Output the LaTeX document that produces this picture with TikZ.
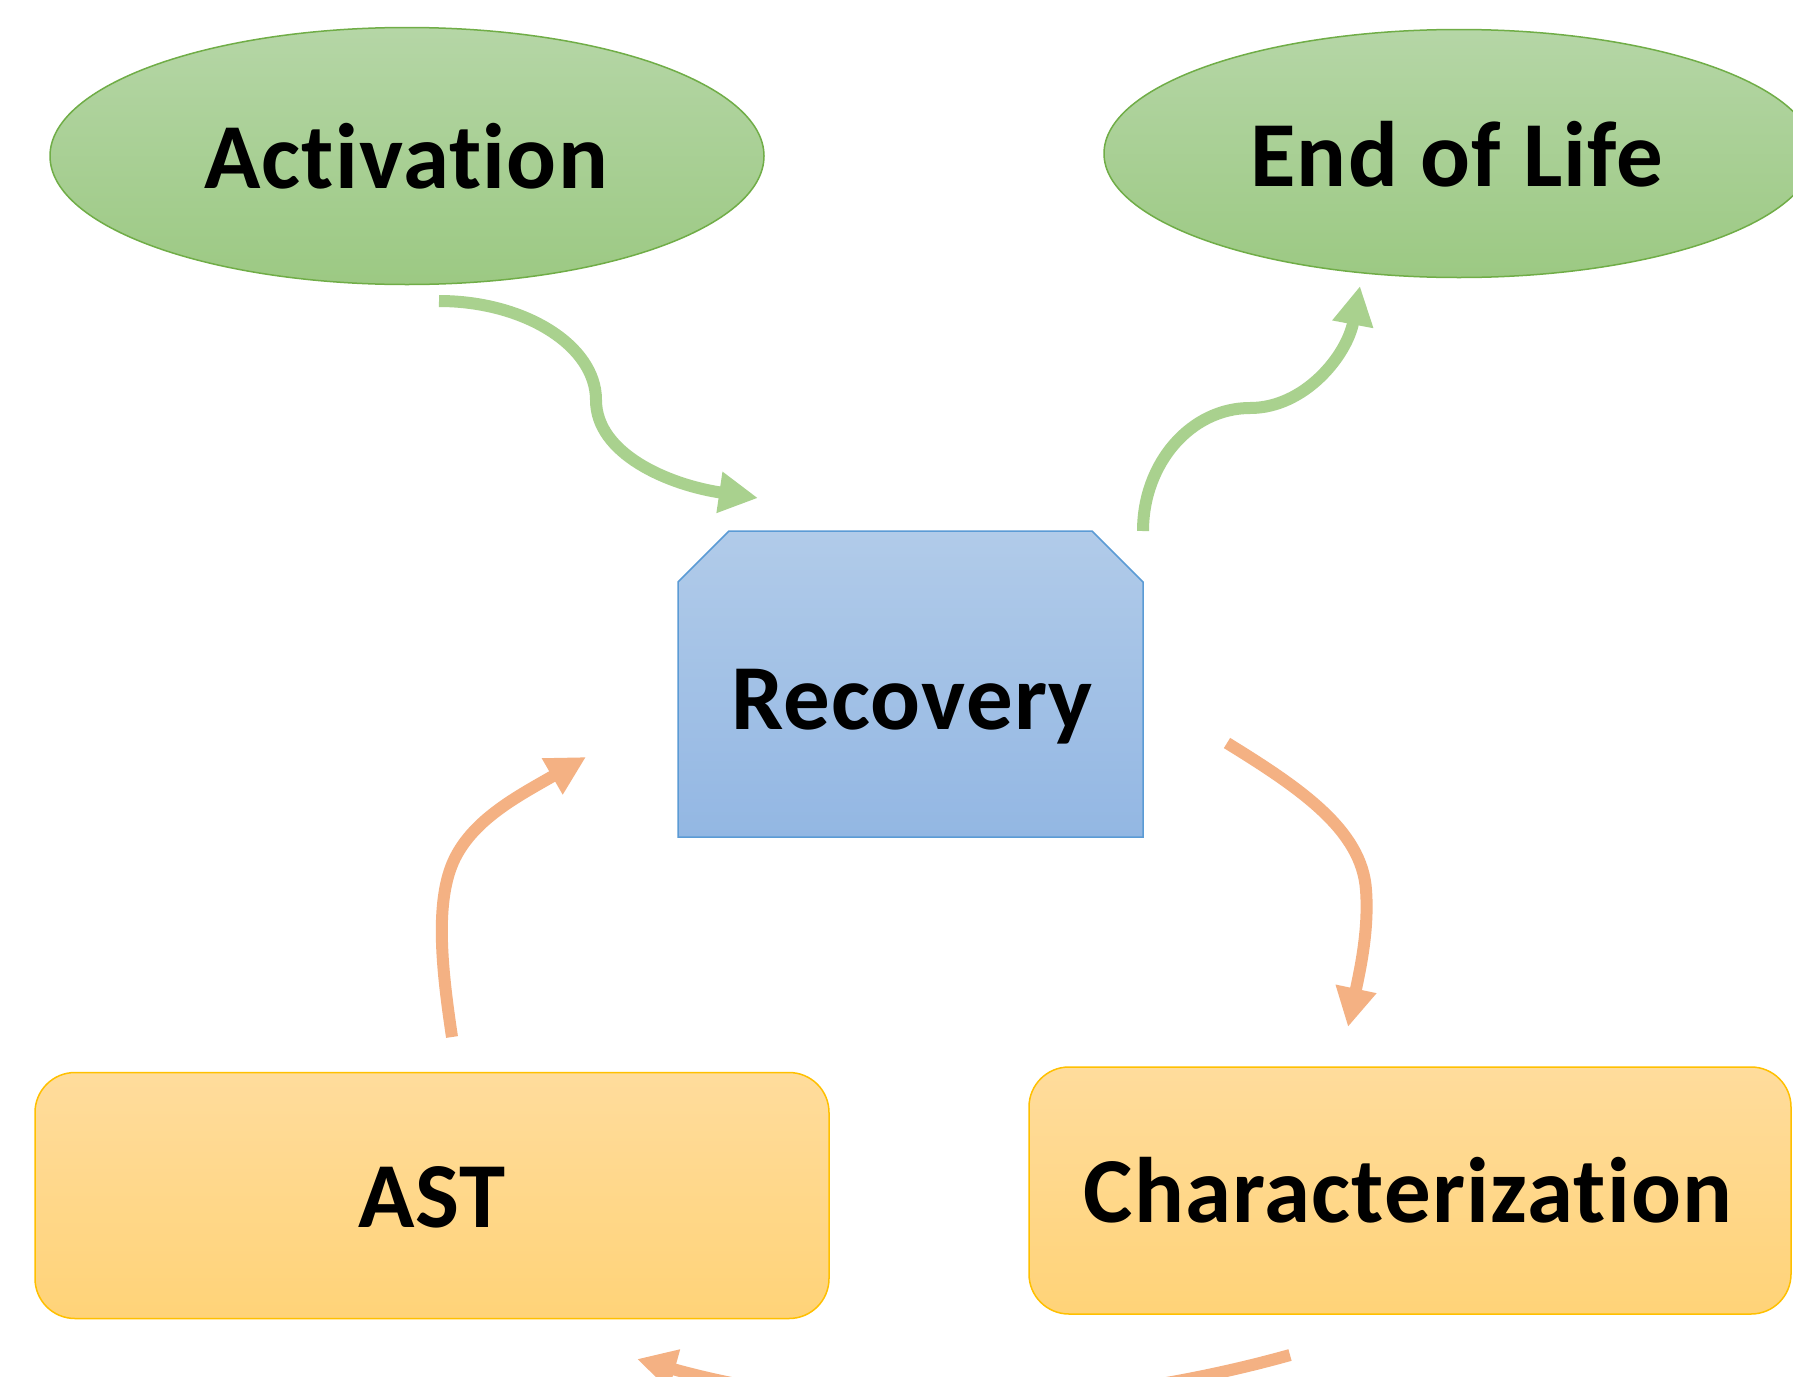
\documentclass[tikz,border=0pt]{standalone}
\usepackage{fontspec}
\setmainfont{Carlito}[Ligatures={NoCommon,NoRare,NoContextual},LetterSpace=1.3]
\usetikzlibrary{arrows.meta,shapes.geometric}
\definecolor{grnTop}{HTML}{B5D6A6}
\definecolor{grnBot}{HTML}{9CC983}
\definecolor{grnLine}{HTML}{70AD47}
\definecolor{grnArrow}{HTML}{A9D18E}
\definecolor{bluTop}{HTML}{B1CBE9}
\definecolor{bluBot}{HTML}{93B7E3}
\definecolor{bluLine}{HTML}{5B9BD5}
\definecolor{golTop}{HTML}{FFDC9C}
\definecolor{golBot}{HTML}{FFD378}
\definecolor{golLine}{HTML}{FFC000}
\definecolor{orgArrow}{HTML}{F4B183}
\begin{document}
\begin{tikzpicture}[x=1pt,y=-1pt,
  lbl/.style={font=\fontsize{93}{110}\selectfont\bfseries, text=black, inner sep=0pt, anchor=base},
  oval/.style={ellipse, draw=grnLine, line width=1.5pt, top color=grnTop, bottom color=grnBot, inner sep=0pt},
  goldbox/.style={rectangle, rounded corners=40pt, draw=golLine, line width=1.5pt, top color=golTop, bottom color=golBot, inner sep=0pt},
  garrow/.style={draw=grnArrow, line width=12pt, -{Triangle[length=39pt,width=39pt]}},
  oarrow/.style={draw=orgArrow, line width=12pt, -{Triangle[length=39pt,width=39pt]}},
]
\useasboundingbox (0,0) rectangle (1793,1376);
\fill[white] (0,0) rectangle (1793,1376);
\clip (0,0) rectangle (1793,1376);

% shapes
\node[oval, minimum width=714pt, minimum height=257pt] (act) at (407,156) {};
\node[oval, minimum width=710pt, minimum height=248pt] (eol) at (1459,153.5) {};
\path[draw=bluLine, line width=1.5pt, top color=bluTop, bottom color=bluBot]
  (678,582) -- (729,531) -- (1092,531) -- (1143,582) -- (1143,837) -- (678,837) -- cycle;
\node[goldbox, minimum width=794pt, minimum height=246pt] (ast) at (432,1195.5) {};
\node[goldbox, minimum width=762pt, minimum height=247pt] (cha) at (1410,1190.5) {};

% labels
\node[lbl] (actT) at (406,188.5) {Activation};
\node[lbl] (eolT) at (1457,186) {End of Life};
\node[lbl] (recT) at (912,729) {Recovery};
\node[lbl] (astT) at (432,1227) {AST};
\node[lbl] (chaT) at (1408,1222) {Characterization};

% connector end points
\coordinate (a1s) at (439,301);
\coordinate (a1m) at (596,400);
\coordinate (a1e) at (758,498);
\coordinate (a2s) at (1143,531);
\coordinate (a2m) at (1250,408);
\coordinate (a2e) at (1360,286);
\coordinate (a3s) at (1227,743);
\coordinate (a3m) at (1366,890);
\coordinate (a3e) at (1348,1027);
\coordinate (a4s) at (452,1037);
\coordinate (a4m) at (455,858);
\coordinate (a4e) at (586,757);
\coordinate (a5s) at (1290,1355);
\coordinate (a5e) at (637,1359);

% Activation -> Recovery
\draw[garrow] (a1s) .. controls (525,301) and (596,346) .. (a1m)
  .. controls (596,454) and (669,485) .. (a1e);
% Recovery -> End of Life
\draw[garrow] (a2s) .. controls (1143,463) and (1191,408) .. (a2m)
  .. controls (1305,408) and (1347,355) .. (a2e);
% Recovery -> Characterization
\draw[oarrow] (a3s) .. controls (1300,788) and (1362,830) .. (a3m)
  .. controls (1369,930) and (1360,970) .. (a3e);
% AST -> Recovery
\draw[oarrow] (a4s) .. controls (442,970) and (434,900) .. (a4m)
  .. controls (475,818) and (520,795) .. (a4e);
% Characterization -> AST
\draw[oarrow] (a5s) .. controls (1079,1414) and (848,1418) .. (a5e);
\end{tikzpicture}
\end{document}
